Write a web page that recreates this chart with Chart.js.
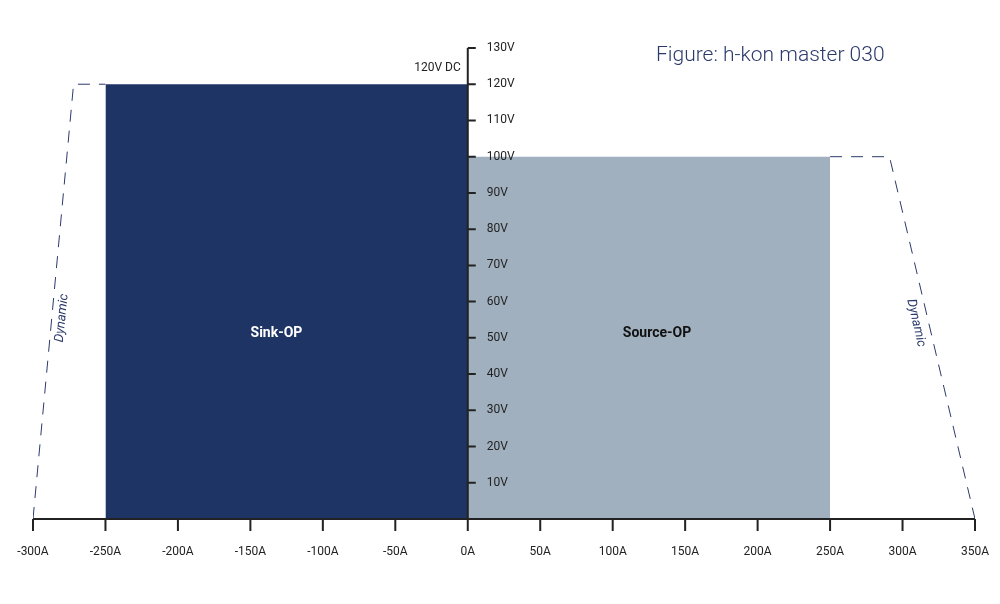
<!DOCTYPE html>
<html><head><meta charset="utf-8">
<script src="https://cdn.jsdelivr.net/npm/chart.js@4/dist/chart.umd.min.js"></script>
<style>html,body{margin:0;background:#fff}#w{width:1000px;height:604px}</style>
</head><body><div id="w"><canvas id="c"></canvas></div>
<script>
const xTicks = [-300,-250,-200,-150,-100,-50,0,50,100,150,200,250,300,350];
const yTicks = [10,20,30,40,50,60,70,80,90,100,110,120,130];
const sinkCurrent = [-250, 0];
const sinkVoltage = [120, 120];
const sourceCurrent = [0, 250];
const sourceVoltage = [100, 100];
const dynLeftX = [-300, -272, -250];
const dynLeftY = [0, 120, 120];
const dynRightX = [250, 291, 350];
const dynRightY = [100, 100, 0];
const pts = (xs, ys) => xs.map((x, i) => ({x, y: ys[i]}));
const FONT = 'Roboto, "Liberation Sans", sans-serif';

const deco = {
  id: 'deco',
  afterDatasetsDraw(ch) {
    const c = ch.ctx, xs = ch.scales.x, ys = ch.scales.y;
    const X = v => xs.getPixelForValue(v), Y = v => ys.getPixelForValue(v);
    c.save();
    c.strokeStyle = '#222'; c.lineWidth = 2;
    c.beginPath();
    c.moveTo(X(-300), Y(0)); c.lineTo(X(350), Y(0));
    c.moveTo(X(0), Y(0)); c.lineTo(X(0), Y(130));
    xTicks.forEach(t => { c.moveTo(X(t), Y(0)); c.lineTo(X(t), Y(0) + 12); });
    yTicks.forEach(t => { c.moveTo(X(0), Y(t)); c.lineTo(X(0) + 8, Y(t)); });
    c.stroke();
    c.fillStyle = '#222'; c.font = '12px ' + FONT;
    c.textAlign = 'center'; c.textBaseline = 'middle';
    xTicks.forEach(t => c.fillText(t + 'A', X(t), Y(0) + 33));
    c.textAlign = 'left';
    yTicks.forEach(t => c.fillText(t + 'V', X(0) + 19, Y(t)));
    c.textAlign = 'right';
    c.fillText('120V DC', X(0) - 7, Y(124.5));
    c.fillStyle = '#fff'; c.font = 'bold 14px ' + FONT; c.textAlign = 'center';
    c.fillText('Sink-OP', X(-132), Y(51.3));
    c.fillStyle = '#111';
    c.fillText('Source-OP', X(130.6), Y(51.3));
    c.fillStyle = '#2b3a6b'; c.font = '300 21px ' + FONT; c.textAlign = 'left';
    c.fillText('Figure: h-kon master 030', 656, 56);
    c.font = 'italic 13px ' + FONT; c.textAlign = 'center';
    c.save(); c.translate(62, 318); c.rotate(-84 * Math.PI / 180); c.fillText('Dynamic', 0, 0); c.restore();
    c.save(); c.translate(916, 323); c.rotate(77 * Math.PI / 180); c.fillText('Dynamic', 0, 0); c.restore();
    c.restore();
  }
};

new Chart(document.getElementById('c'), {
  type: 'line',
  data: { datasets: [
    { data: pts(sinkCurrent, sinkVoltage), fill: 'origin', backgroundColor: '#1e3464', borderWidth: 0, pointRadius: 0 },
    { data: pts(sourceCurrent, sourceVoltage), fill: 'origin', backgroundColor: '#a1b0bf', borderWidth: 0, pointRadius: 0 },
    { data: pts(dynLeftX, dynLeftY), fill: false, borderColor: '#2b3a6b', borderWidth: 1, borderDash: [12, 9], pointRadius: 0 },
    { data: pts(dynRightX, dynRightY), fill: false, borderColor: '#2b3a6b', borderWidth: 1, borderDash: [12, 9], pointRadius: 0 }
  ]},
  options: {
    responsive: true, maintainAspectRatio: false, animation: false,
    layout: { padding: { left: 33, right: 25, top: 48, bottom: 85 } },
    plugins: { legend: { display: false }, tooltip: { enabled: false } },
    scales: {
      x: { type: 'linear', min: -300, max: 350, display: false },
      y: { type: 'linear', min: 0, max: 130, display: false }
    }
  },
  plugins: [deco]
});
</script></body></html>
